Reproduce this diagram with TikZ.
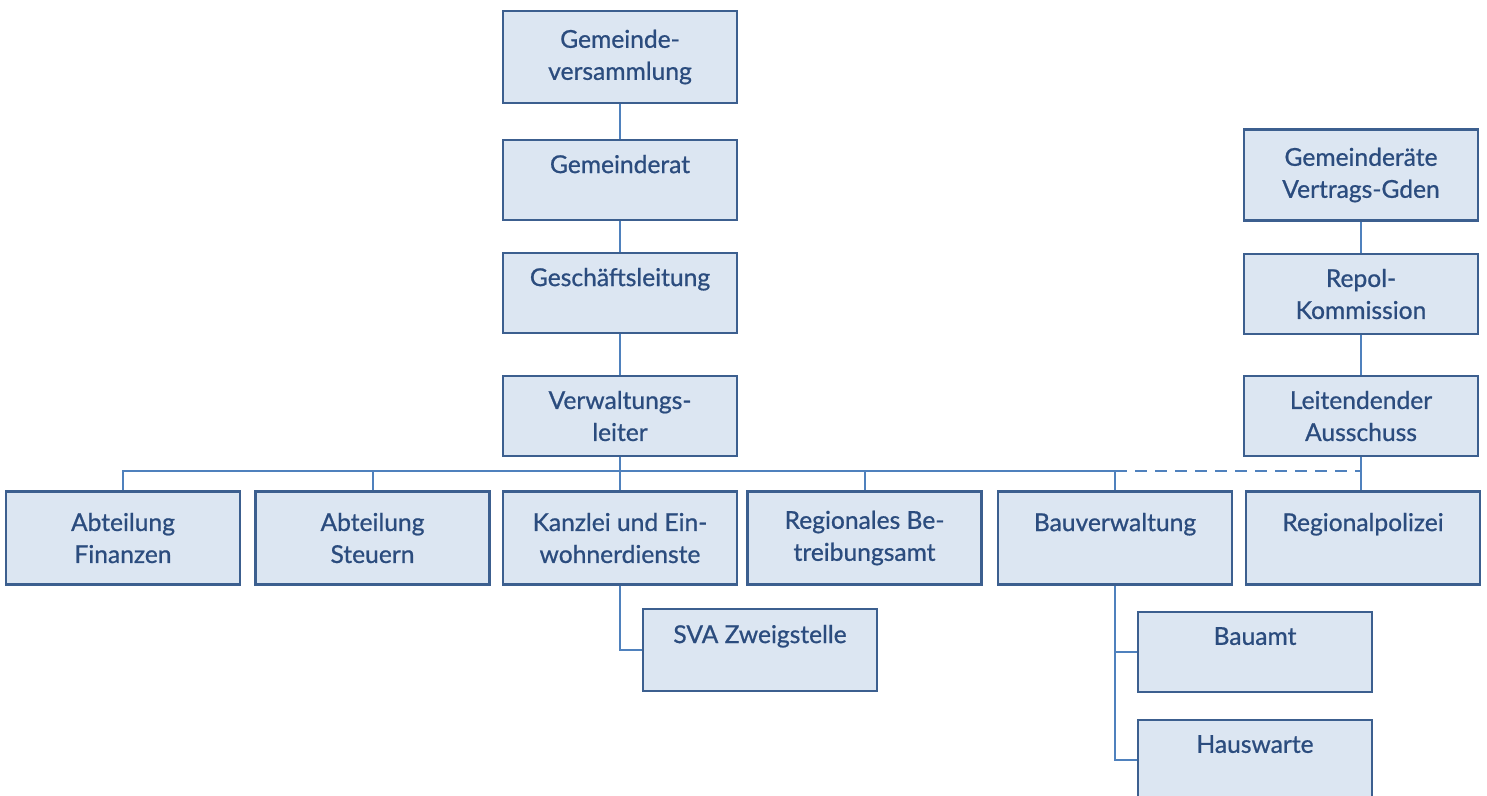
\documentclass[tikz,border=0pt]{standalone}
\usepackage{fontspec}
\setmainfont{Lato}[UprightFeatures={FakeBold=0.8}]
\usepackage{xcolor}
\usetikzlibrary{positioning}
\definecolor{boxfill}{HTML}{DCE6F2}
\definecolor{boxline}{HTML}{3C5F8F}
\definecolor{connline}{HTML}{4F81BD}
\definecolor{boxtext}{HTML}{2B4C7E}

\tikzset{
  orgbox/.style={draw=boxline, fill=boxfill, line width=1.3pt, minimum width=117pt,
    minimum height=40pt, align=center, text=boxtext, font=\fontsize{12.3}{16}\selectfont},
  conn/.style={draw=connline, line width=1pt}
}

\begin{document}
\begin{tikzpicture}[x=0.5pt, y=-0.5pt]
    \useasboundingbox (0,0) rectangle (1487,796);

    \node[orgbox, minimum height=46pt] (gv) at (620, 57) {Gemeinde-\\versammlung};
    \node[orgbox] (gr) at (620, 180) {Gemeinderat\\\mbox{}};
    \node[orgbox] (gl) at (620, 293) {Geschäftsleitung\\\mbox{}};
    \node[orgbox] (vl) at (620, 416) {Verwaltungs-\\leiter};

    \node[orgbox, minimum height=45.5pt] (vgd) at (1361, 175) {Gemeinderäte\\Vertrags-Gden};
    \node[orgbox] (repol) at (1361, 294) {Repol-\\Kommission};
    \node[orgbox] (la) at (1361, 416) {Leitendender\\Ausschuss};

    \node[orgbox, minimum height=46.5pt] (fin) at (123, 538) {Abteilung\\Finanzen};
    \node[orgbox, minimum height=46.5pt] (steu) at (372.5, 538) {Abteilung\\Steuern};
    \node[orgbox, minimum height=46.5pt] (kanz) at (620, 538) {Kanzlei und Ein-\\wohnerdienste};
    \node[orgbox, minimum height=46.5pt] (betr) at (864.5, 538) {Regionales Be-\\treibungsamt};
    \node[orgbox, minimum height=46.5pt] (bau) at (1115, 538) {Bauverwaltung\\\mbox{}};
    \node[orgbox, minimum height=46.5pt] (pol) at (1363, 538) {Regionalpolizei\\\mbox{}};

    \node[orgbox, minimum height=41pt] (sva) at (760, 650) {SVA Zweigstelle\\\mbox{}};
    \node[orgbox] (bauamt) at (1255, 652) {Bauamt\\\mbox{}};
    \node[orgbox] (haus) at (1255, 760) {Hauswarte\\\mbox{}};

    \coordinate (bus) at (620, 471);

    % upper chain
    \draw[conn] (gv) -- (gr);
    \draw[conn] (gr) -- (gl);
    \draw[conn] (gl) -- (vl);
    \draw[conn] (vl) -- (bus);
    \draw[conn] (vgd) -- (repol);
    \draw[conn] (repol) -- (la);
    \draw[conn] (la.south) -- (la.south |- pol.north);

    % departments
    \draw[conn] (fin.north) |- (bus) -| (bau.north);
    \draw[conn] (steu.north) -- (steu.north |- bus);
    \draw[conn] (kanz.north) -- (bus);
    \draw[conn] (betr.north) -- (betr.north |- bus);
    \draw[conn, dashed, dash pattern=on 6pt off 4pt] (bau.north |- bus) -- (la.south |- bus);

    % sub units
    \draw[conn] (kanz.south) |- (sva.west);
    \draw[conn] (bau.south) |- (haus.west);
    \draw[conn] (bau.south |- bauamt.west) -- (bauamt.west);
\end{tikzpicture}
\end{document}
